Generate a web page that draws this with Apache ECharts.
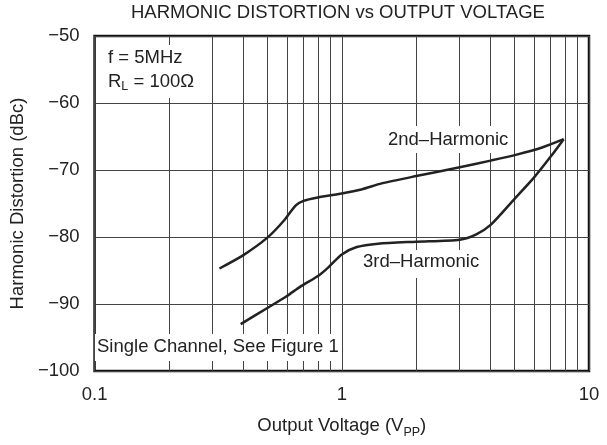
<!DOCTYPE html>
<html>
<head>
<meta charset="utf-8">
<script src="https://cdn.jsdelivr.net/npm/echarts@6/dist/echarts.min.js"></script>
<style>
  html, body { margin: 0; padding: 0; background: #fff; }
  #chart { width: 607px; height: 445px; }
</style>
</head>
<body>
<div id="chart"></div>
<script>
// 数据：输出电压 (Vpp) 与谐波失真 (dBc)
const volt2 = [0.32, 0.4, 0.5, 0.585, 0.65, 0.7, 0.8, 1.0, 1.2, 1.45, 2.0, 3.0, 4.0, 5.1, 6.5, 7.9]
const harm2 = [-84.7, -82.7, -80.1, -77.5, -75.3, -74.6, -74.1, -73.5, -72.9, -72.0, -70.9, -69.6, -68.6, -67.7, -66.6, -65.4]

const volt3 = [0.39, 0.5, 0.6, 0.68, 0.81, 0.89, 1.0, 1.15, 1.4, 2.0, 3.0, 3.5, 4.0, 5.0, 6.0, 7.0, 7.9]
const harm3 = [-93.0, -90.6, -88.8, -87.4, -85.7, -84.4, -82.6, -81.5, -81.0, -80.7, -80.4, -79.6, -78.2, -74.3, -71.1, -68.0, -65.4]

// 对数坐标的次网格线位置
const minorX = [0.2, 0.3, 0.4, 0.5, 0.6, 0.7, 0.8, 0.9, 2, 3, 4, 5, 6, 7, 8, 9]

// 刻度文字
const xTickLabels = ['0.1', '1', '10']
const yTickLabels = ['\u2212100', '\u221290', '\u221280', '\u221270', '\u221260', '\u221250']

const FONT = '"Liberation Sans", Arial, Helvetica, sans-serif'
const FS = 18.5
const INK = '#222'
const GRID_COLOR = '#444'

const chart = echarts.init(document.getElementById('chart'))

const toPairs = (xs, ys) => xs.map((x, i) => [x, ys[i]])

const option = {
  animation: false,
  textStyle: { fontFamily: FONT, color: INK },
  grid: {
    left: 93,
    right: 18,
    top: 36,
    bottom: 74,
    show: true,
    borderColor: '#111',
    borderWidth: 2.5
  },
  xAxis: {
    type: 'log',
    logBase: 10,
    min: 0.1,
    max: 10,
    splitNumber: 2,
    name: '{a|Output Voltage (V}{s|PP}{a|)}',
    nameLocation: 'middle',
    nameGap: 42,
    nameTextStyle: {
      rich: {
        a: { fontSize: FS, fontFamily: FONT, color: INK, lineHeight: 26 },
        s: { fontSize: 12.5, fontFamily: FONT, color: INK, lineHeight: 14, verticalAlign: 'bottom' }
      }
    },
    axisLine: { show: false },
    axisTick: { show: false },
    axisLabel: {
      fontSize: FS,
      color: INK,
      margin: 14,
      formatter: (v, i) => xTickLabels[i]
    },
    splitLine: { show: true, lineStyle: { color: GRID_COLOR, width: 1 } },
    minorSplitLine: { show: false }
  },
  yAxis: {
    type: 'value',
    min: -100,
    max: -50,
    interval: 10,
    name: 'Harmonic Distortion (dBc)',
    nameLocation: 'middle',
    nameGap: 58,
    nameTextStyle: { fontSize: FS, color: INK, fontFamily: FONT },
    axisLine: { show: false },
    axisTick: { show: false },
    axisLabel: {
      fontSize: FS,
      color: INK,
      margin: 15,
      formatter: (v, i) => yTickLabels[i]
    },
    splitLine: { show: true, lineStyle: { color: GRID_COLOR, width: 1 } }
  },
  series: [
    {
      name: '2nd-Harmonic',
      type: 'line',
      data: toPairs(volt2, harm2),
      smooth: 0.25,
      showSymbol: false,
      lineStyle: { color: INK, width: 2.5 },
      z: 5,
      markLine: {
        silent: true,
        symbol: 'none',
        label: { show: false },
        lineStyle: { color: GRID_COLOR, width: 1, type: 'solid' },
        data: minorX.map(v => ({ xAxis: v }))
      }
    },
    {
      name: '3rd-Harmonic',
      type: 'line',
      data: toPairs(volt3, harm3),
      smooth: 0.25,
      showSymbol: false,
      lineStyle: { color: INK, width: 2.5 },
      z: 5
    }
  ],
  graphic: [
    {
      type: 'text',
      left: 131,
      top: 3,
      z: 50,
      style: { text: 'HARMONIC DISTORTION vs OUTPUT VOLTAGE', font: FS + 'px ' + FONT, fill: INK }
    },
    // 标注文字带白色底，遮住网格线
    { type: 'rect', shape: { x: 100, y: 45, width: 105, height: 53 }, style: { fill: '#fff' }, z: 40 },
    {
      type: 'text',
      left: 108,
      top: 48,
      z: 50,
      style: {
        text: '{a|f = 5MHz}\n{a|R}{s|L}{a| = 100\u03A9}',
        rich: {
          a: { fontSize: FS, fontFamily: FONT, fill: INK, lineHeight: 24 },
          s: { fontSize: 12.5, fontFamily: FONT, fill: INK, lineHeight: 14, verticalAlign: 'bottom' }
        }
      }
    },
    { type: 'rect', shape: { x: 95, y: 334, width: 244, height: 27 }, style: { fill: '#fff' }, z: 40 },
    {
      type: 'text',
      left: 97,
      top: 337,
      z: 50,
      style: { text: 'Single Channel, See Figure 1', font: FS + 'px ' + FONT, fill: INK }
    },
    { type: 'rect', shape: { x: 384, y: 126, width: 128, height: 27 }, style: { fill: '#fff' }, z: 40 },
    {
      type: 'text',
      left: 388,
      top: 130,
      z: 50,
      style: { text: '2nd\u2013Harmonic', font: FS + 'px ' + FONT, fill: INK }
    },
    { type: 'rect', shape: { x: 359, y: 250, width: 126, height: 28 }, style: { fill: '#fff' }, z: 40 },
    {
      type: 'text',
      left: 363,
      top: 252,
      z: 50,
      style: { text: '3rd\u2013Harmonic', font: FS + 'px ' + FONT, fill: INK }
    }
  ]
}

chart.setOption(option)
</script>
</body>
</html>
